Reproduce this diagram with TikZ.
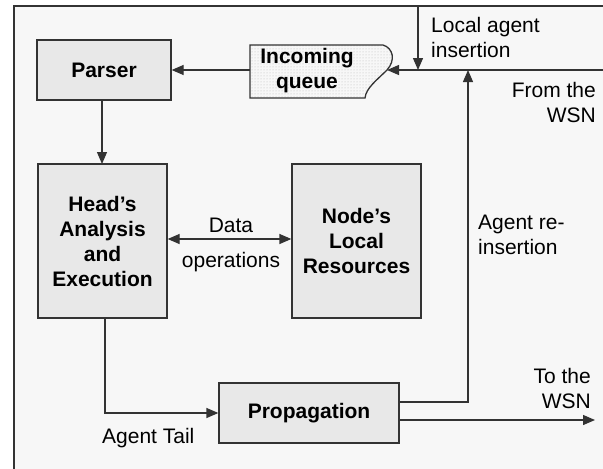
\documentclass[tikz,border=0pt]{standalone}
\usepackage{fontspec}
\setmainfont{Liberation Sans}
\usetikzlibrary{arrows.meta,patterns}
\definecolor{bgpanel}{HTML}{F7F7F7}
\definecolor{boxfill}{HTML}{E8E8E8}
\definecolor{edge}{HTML}{333333}
\tikzset{
  lbl/.style={font=\fontsize{21}{25}\selectfont, inner sep=0pt, text=black},
  block/.style={draw=edge, line width=1.3pt, fill=boxfill, align=center,
                font=\fontsize{21}{25}\selectfont\bfseries, inner sep=0pt},
  arr/.style={draw=edge, line width=1.3pt, -{Triangle[length=12pt,width=10pt]}},
  darr/.style={draw=edge, line width=1.3pt, {Triangle[length=12pt,width=10pt]}-{Triangle[length=12pt,width=10pt]}},
  plain/.style={draw=edge, line width=1.3pt},
  queueshape/.style={insert path={
    (250,45) -- (383,45) .. controls (393,48) and (396,60) .. (387,70)
    .. controls (377,80) and (366,88) .. (365,98) -- (250,98) -- cycle}}
}
\begin{document}
\begin{tikzpicture}[x=1pt,y=-1pt]
  \useasboundingbox (0,0) rectangle (603,469);
  % panel
  \fill[bgpanel] (14,6) rectangle (603,469);
  \draw[plain] (603,6) -- (14,6) -- (14,469);

  % blocks
  \node[block, minimum width=134pt, minimum height=60pt] (parser) at (104,70) {Parser};
  \node[block, minimum width=129pt, minimum height=154pt] (head) at (102.5,241) {Head’s\\Analysis\\and\\Execution};
  \node[block, minimum width=129pt, minimum height=154pt] (res) at (356.5,241) {Node’s\\Local\\Resources};
  \node[block, minimum width=180pt, minimum height=60pt] (prop) at (309,413) {Propagation};

  % incoming queue with a wavy right side, dotted fill
  \fill[white!97!black, queueshape];
  \fill[pattern=dots, pattern color=gray!55, queueshape];
  \draw[draw=edge, line width=1.3pt, queueshape];
  \node[lbl, font=\fontsize{21}{25}\selectfont\bfseries, align=center] (queue) at (307,71) {Incoming\\queue};
  \coordinate (qin) at (387,70);
  \coordinate (qout) at (250,70);

  % external ends
  \coordinate (wsnin) at (603,70);
  \coordinate (localtop) at (418,6);
  \coordinate (localend) at (418,70);
  \coordinate (reins) at (468,70);
  \coordinate (wsnout) at (595,420);
  \coordinate (tailcorner) at (105,413);

  % connectors
  \draw[arr] (wsnin) -- (qin);
  \draw[arr] (localtop) -- (localend);
  \draw[arr] (qout) -- (parser.east);
  \draw[arr] (parser.south -| 102,0) -- (102,164);
  \draw[darr] (head.east |- 0,239) -- (res.west |- 0,239);
  \draw[arr] (head.south -| tailcorner) -- (tailcorner) -- (prop.west);
  \draw[arr] (prop.east |- 0,402) -- (468,402) -- (reins);
  \draw[arr] (prop.east |- wsnout) -- (wsnout);

  % labels
  \node[lbl, anchor=north west, align=left] (lai) at (431,17.5) {Local agent\\insertion};
  \node[lbl, anchor=north east, align=right] (fwsn) at (596,82) {From the\\WSN};
  \node[lbl, anchor=north west, align=left] (ari) at (478,215) {Agent re-\\insertion};
  \node[lbl, anchor=north east, align=right] (twsn) at (591,368) {To the\\WSN};
  \node[lbl, anchor=north west] (tail) at (102,428) {Agent Tail};
  \node[lbl, anchor=base] (data) at (231,232) {Data};
  \node[lbl, anchor=base] (ops) at (231,267) {operations};
\end{tikzpicture}
\end{document}
